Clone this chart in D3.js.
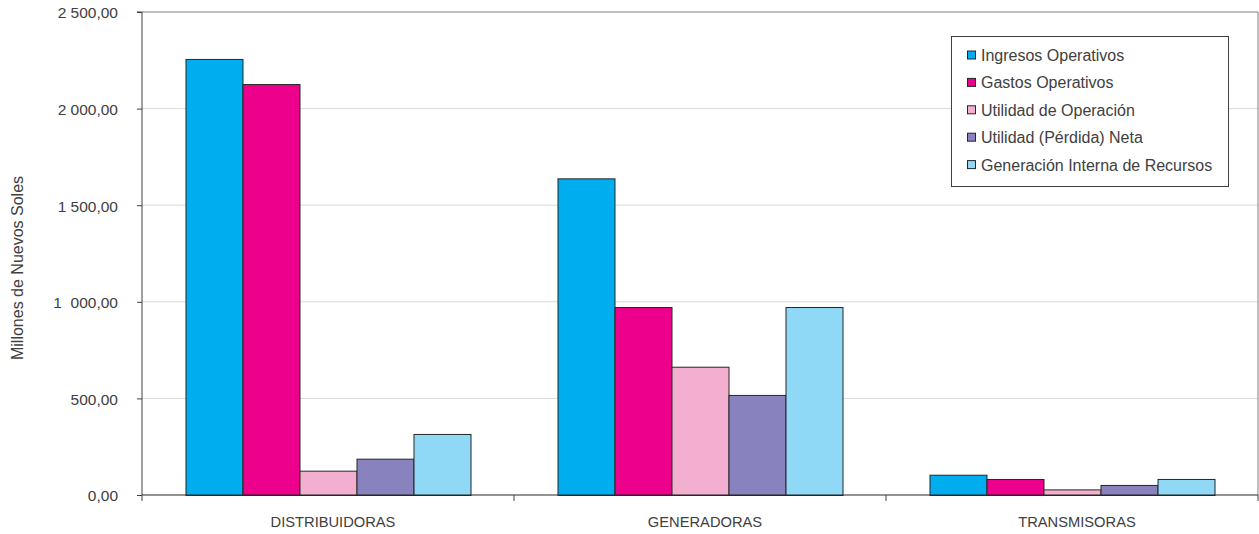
<!DOCTYPE html>
<html><head><meta charset="utf-8">
<script src="https://cdn.jsdelivr.net/npm/d3@7"></script>
<style>
body{margin:0;background:#fff;}
text{font-family:"Liberation Sans",Arial,sans-serif;fill:#404040;}
</style></head>
<body><svg id="c" width="1259" height="534"></svg>
<script>
const categories = ["DISTRIBUIDORAS","GENERADORAS","TRANSMISORAS"];
const seriesNames = ["Ingresos Operativos","Gastos Operativos","Utilidad de Operación","Utilidad (Pérdida) Neta","Generación Interna de Recursos"];
const ingresos = [2257, 1639, 105];
const gastos = [2127, 973, 83];
const utilOper = [126, 664, 29];
const utilNeta = [188, 518, 52];
const genInterna = [316, 973, 83];
const yTicks = [0, 500, 1000, 1500, 2000, 2500];
const yTickLabels = ["0,00","500,00","1  000,00","1 500,00","2 000,00","2 500,00"];
const colors = ["#00AEEF","#EC008C","#F3AFCF","#8882BE","#8FD8F6"];

const values = [ingresos, gastos, utilOper, utilNeta, genInterna];
const svg = d3.select("#c");
const L = 142, R = 1258, T = 12, B = 495;
const x0 = d3.scaleBand().domain(categories).range([L, R]).paddingInner(0).paddingOuter(0);
const x1 = d3.scaleBand().domain(seriesNames).range([0, x0.bandwidth()]).paddingInner(0).paddingOuter(0.763);
const y = d3.scaleLinear().domain([0, 2500]).range([B, T]);

// gridlines
svg.append("g").selectAll("line").data(yTicks.filter(v => v > 0 && v < 2500)).join("line")
  .attr("x1", L).attr("x2", R).attr("y1", d => y(d)).attr("y2", d => y(d))
  .attr("stroke", "#d9d9d9").attr("stroke-width", 1);
// frame top & right
svg.append("line").attr("x1", L).attr("x2", R).attr("y1", y(2500)).attr("y2", y(2500)).attr("stroke", "#808080");
svg.append("line").attr("x1", R).attr("x2", R).attr("y1", T).attr("y2", B).attr("stroke", "#808080");

// bars
const rows = [];
categories.forEach((c, ci) => seriesNames.forEach((s, si) => rows.push({c, s, si, v: values[si][ci]})));
svg.append("g").selectAll("rect").data(rows).join("rect")
  .attr("x", d => x0(d.c) + x1(d.s) + 0.5)
  .attr("y", d => y(d.v) + 0.5)
  .attr("width", x1.bandwidth())
  .attr("height", d => B - y(d.v))
  .attr("fill", d => colors[d.si])
  .attr("stroke", "#262626").attr("stroke-width", 1);

// y axis
const yAxis = d3.axisLeft(y).tickValues(yTicks).tickSize(5).tickPadding(19)
  .tickFormat((d, i) => yTickLabels[i]);
const gy = svg.append("g").attr("transform", `translate(${L},0)`).call(yAxis);
gy.select(".domain").attr("stroke", "#404040").attr("d", `M-5,${T}H0V${B}`);
gy.selectAll(".tick line").attr("stroke", "#404040");
gy.selectAll(".tick text").attr("font-size", 15.5).attr("font-family", "Liberation Sans").attr("fill", "#404040")
  .attr("dy", "0.38em").style("white-space", "pre");

// x axis
const gx = svg.append("g").attr("transform", `translate(0,${B})`);
gx.append("line").attr("x1", L).attr("x2", R).attr("stroke", "#262626");
const bounds = [L].concat(categories.map(c => x0(c) + x0.bandwidth()));
gx.selectAll("line.tk").data(bounds).join("line").attr("class", "tk")
  .attr("x1", d => d).attr("x2", d => d).attr("y1", 0).attr("y2", 6).attr("stroke", "#404040");
gx.selectAll("text").data(categories).join("text")
  .attr("x", d => x0(d) + x0.bandwidth() / 2 + 5).attr("y", 32)
  .attr("text-anchor", "middle").attr("font-size", 14.7).text(d => d);

// y title
svg.append("text").attr("transform", "translate(23,268) rotate(-90)")
  .attr("text-anchor", "middle").attr("font-size", 16).text("Millones de Nuevos Soles");

// legend
const lg = svg.append("g");
lg.append("rect").attr("x", 951.5).attr("y", 36.5).attr("width", 277).attr("height", 150)
  .attr("fill", "#fff").attr("stroke", "#404040");
const items = lg.selectAll("g.it").data(seriesNames).join("g").attr("class", "it")
  .attr("transform", (d, i) => `translate(967,${55.5 + i * 27.4})`);
items.append("rect").attr("x", 0.5).attr("y", -4.5).attr("width", 8).attr("height", 8)
  .attr("fill", (d, i) => colors[i]).attr("stroke", "#262626");
items.append("text").attr("x", 14).attr("y", 5.5).attr("font-size", 16).text(d => d);
</script></body></html>
